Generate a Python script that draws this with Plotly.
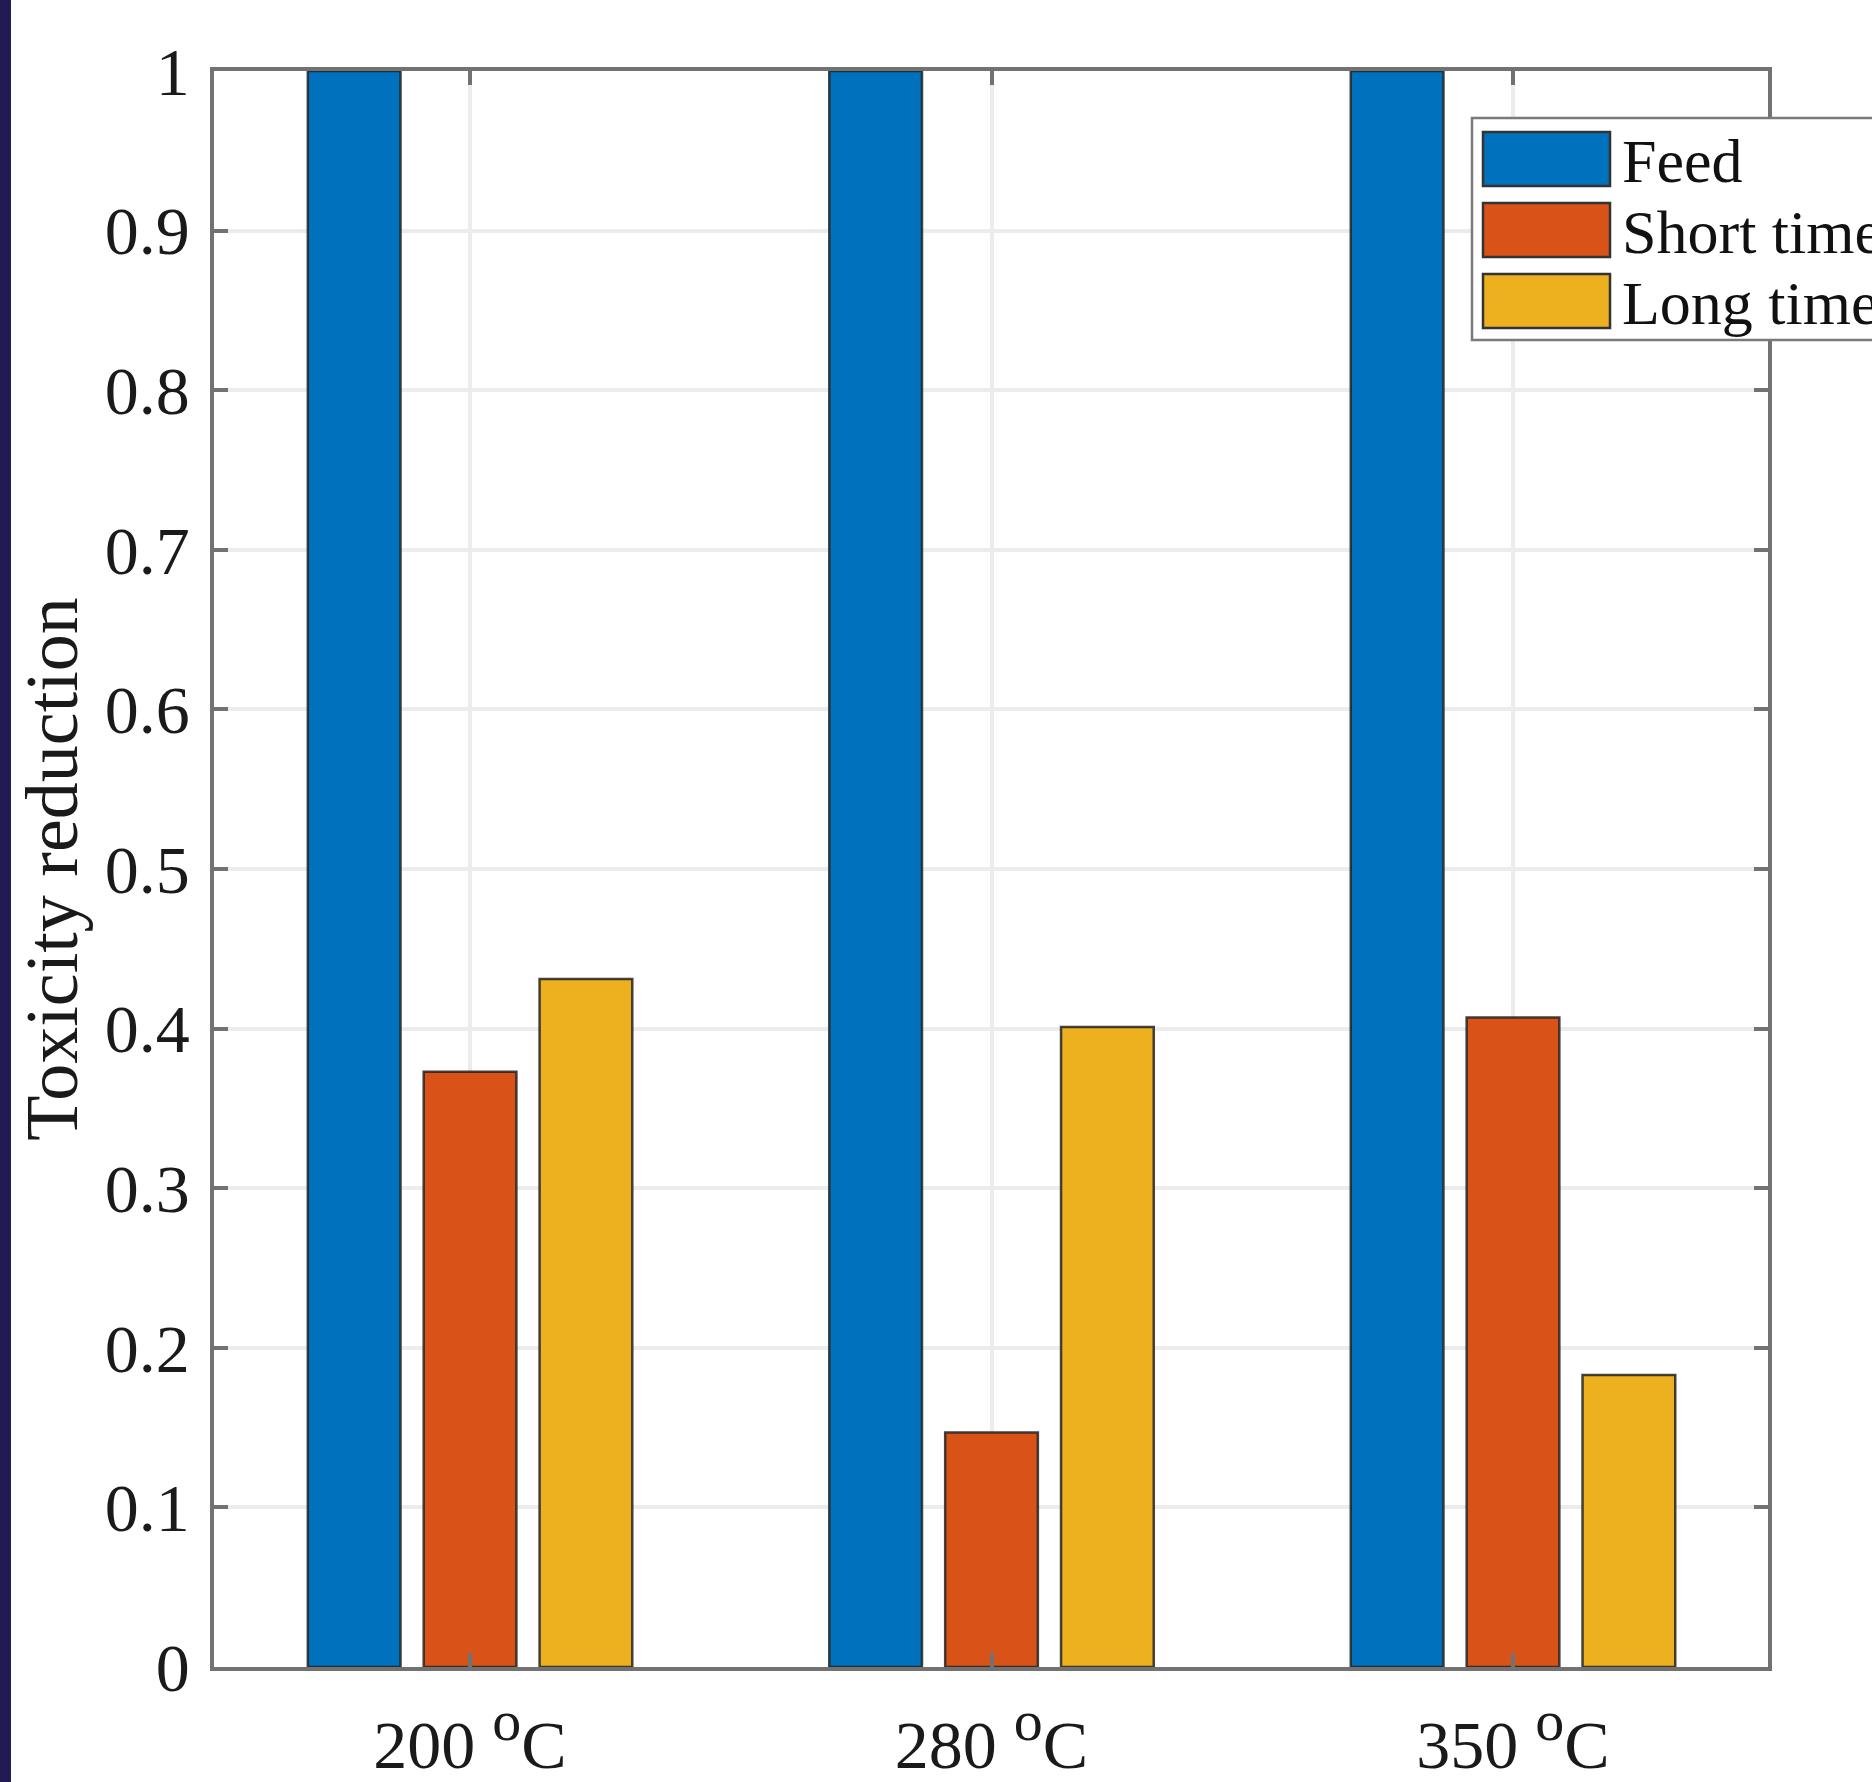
import plotly.graph_objects as go

# Data
temperatures = [200, 280, 350]
tick_labels = [
    "200 <sup><span style='font-size:58px'>o</span></sup>C",
    "280 <sup><span style='font-size:58px'>o</span></sup>C",
    "350 <sup><span style='font-size:58px'>o</span></sup>C",
]
series_names = ["Feed", "Short time", "Long time"]
feed = [1.0, 1.0, 1.0]
short_time = [0.373, 0.147, 0.407]
long_time = [0.431, 0.401, 0.183]
series_colors = ["#0072BD", "#D95319", "#EDB120"]

W, H = 1872, 1782
L, R, T, B = 214, 1768, 71, 1667  # plot area in pixels

def px2x(px):
    return (px - L) / (R - L)

def py2y(py):
    return (B - py) / (B - T)

FONT = "Liberation Serif, Times New Roman, serif"
AXIS_GRAY = "#727272"
positions = [1, 2, 3]

fig = go.Figure()
for name, vals, col in zip(series_names, [feed, short_time, long_time], series_colors):
    fig.add_trace(go.Bar(
        x=positions, y=vals, name=name,
        marker=dict(color=col, line=dict(color="rgba(35,35,35,0.85)", width=2.5)),
        showlegend=False,
    ))

shapes = []
annotations = []

# left-edge dark band
shapes.append(dict(type="rect", xref="paper", yref="paper",
                   x0=px2x(0), x1=px2x(11), y0=py2y(H), y1=py2y(0),
                   fillcolor="#221a55", line=dict(width=0), layer="above"))

# legend box
shapes.append(dict(type="rect", xref="paper", yref="paper",
                   x0=px2x(1472), x1=px2x(1900), y0=py2y(340), y1=py2y(118),
                   fillcolor="white", line=dict(color="#7a7a7a", width=2.5), layer="above"))
row_top = 132
row_step = 71
sw_h = 54
for i, (name, col) in enumerate(zip(series_names, series_colors)):
    top = row_top + i * row_step
    shapes.append(dict(type="rect", xref="paper", yref="paper",
                       x0=px2x(1483), x1=px2x(1610), y0=py2y(top + sw_h), y1=py2y(top),
                       fillcolor=col, line=dict(color="#333333", width=2.5), layer="above"))
    annotations.append(dict(xref="paper", yref="paper", x=px2x(1620), y=py2y(top + sw_h / 2 + 2),
                            text=name, showarrow=False, xanchor="left", yanchor="middle",
                            font=dict(family=FONT, size=62, color="#111111")))

fig.update_layout(
    width=W, height=H,
    margin=dict(l=L, r=W - R, t=T, b=H - B, pad=0),
    paper_bgcolor="white", plot_bgcolor="white",
    barmode="group", bargap=1 - 2 / 3, bargroupgap=0.2,
    shapes=shapes, annotations=annotations,
    showlegend=False,
    font=dict(family=FONT, color="#1a1a1a"),
)

fig.update_xaxes(
    range=[0.509, 3.489], tickmode="array", tickvals=positions, ticktext=tick_labels,
    showline=True, linecolor=AXIS_GRAY, linewidth=3.5, mirror="ticks",
    ticks="inside", ticklen=14, tickwidth=3.5, tickcolor=AXIS_GRAY,
    showgrid=True, gridcolor="#ececec", gridwidth=4, zeroline=False,
    tickfont=dict(family=FONT, size=68, color="#1a1a1a"),
    ticklabelstandoff=16,
    automargin=False,
)
fig.update_yaxes(
    range=[0, 1], tickmode="linear", tick0=0, dtick=0.1,
    showline=True, linecolor=AXIS_GRAY, linewidth=3.5, mirror="ticks",
    ticks="inside", ticklen=14, tickwidth=3.5, tickcolor=AXIS_GRAY,
    showgrid=True, gridcolor="#ececec", gridwidth=4, zeroline=False,
    tickfont=dict(family=FONT, size=68, color="#1a1a1a"),
    ticklabelstandoff=7,
    title=dict(text="Toxicity reduction", font=dict(family=FONT, size=74, color="#1a1a1a"),
               standoff=4),
    automargin=False,
)

fig.write_html("out.html")
